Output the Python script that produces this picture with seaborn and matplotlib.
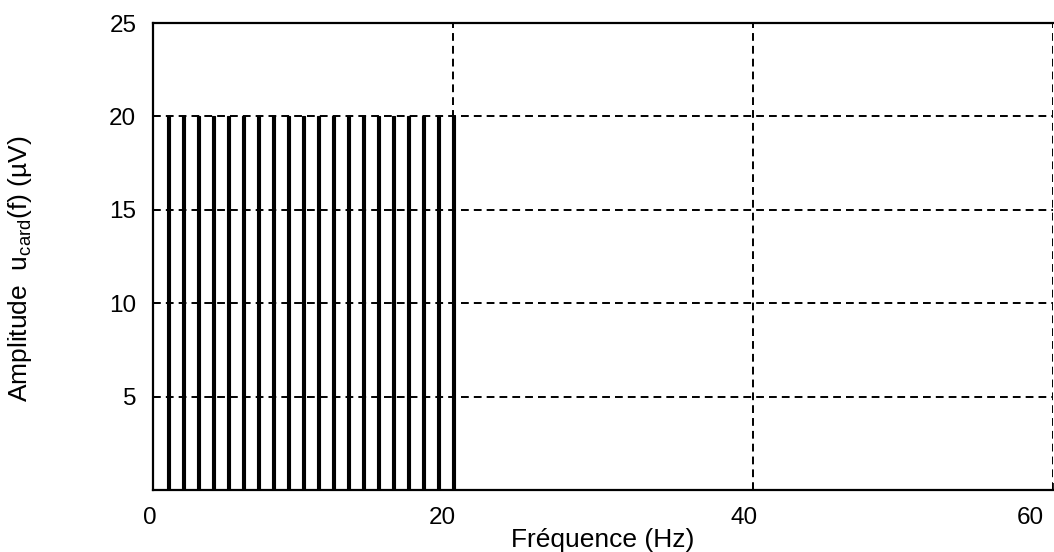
import matplotlib
matplotlib.use("Agg")
import matplotlib.pyplot as plt
import matplotlib.transforms as mtransforms
import seaborn as sns
import pandas as pd

# Data
freqs = [1, 2, 3, 4, 5, 6, 7, 8, 9, 10, 11, 12, 13, 14, 15, 16, 17, 18, 19, 20]
amps = [20, 20, 20, 20, 20, 20, 20, 20, 20, 20, 20, 20, 20, 20, 20, 20, 20, 20, 20, 20]
x_ticks = [0, 20, 40, 60]
y_ticks = [5, 10, 15, 20, 25]

sns.set_theme(style="white")
plt.rcParams['font.family'] = ['Liberation Sans', 'DejaVu Sans']
plt.rcParams['mathtext.default'] = 'regular'

df = pd.DataFrame({"f": freqs, "a": amps})

fig = plt.figure(figsize=(10.54, 5.52), dpi=100)
ax = fig.add_axes([153/1054, 62/552, 900/1054, 467/552])

sns.barplot(data=df, x="f", y="a", native_scale=True, width=0.2,
            color="black", edgecolor="black", linewidth=0.8, saturation=1,
            errorbar=None, ax=ax)

ax.set_xlim(0, 60)
ax.set_ylim(0, 25)
ax.set_xticks(x_ticks)
ax.set_yticks(y_ticks)
ax.set_xticklabels([str(v) for v in x_ticks])
ax.set_yticklabels([str(v) for v in y_ticks])

ax.grid(True, color="black", linestyle=(0, (4, 2.6)), linewidth=1.4)
ax.set_axisbelow(True)
for s in ax.spines.values():
    s.set_color("black")
    s.set_linewidth(1.6)
    s.set_visible(True)
ax.spines["right"].set_visible(False)

ax.tick_params(axis="both", direction="in", length=5, width=1.2, colors="black",
               labelsize=17.5, left=True, bottom=True)
ax.tick_params(axis="x", pad=12)
ax.tick_params(axis="y", pad=12)

# horizontal offsets of x tick labels as placed in the reference
offsets_px = [-3, -11, -9, -23]
for lab, dx in zip(ax.get_xticklabels(), offsets_px):
    lab.set_transform(lab.get_transform() +
                      mtransforms.ScaledTranslation(dx / 100, 0, fig.dpi_scale_trans))

ax.set_xlabel("Fréquence (Hz)", fontsize=19, color="black")
ax.set_ylabel("Amplitude  u$_{\\mathregular{card}}$(f) (µV)", fontsize=19, color="black")
ax.xaxis.set_label_coords(0.5, -0.082)
ax.yaxis.set_label_coords(-0.132, 0.473)

fig.savefig("out.png", dpi=100)
